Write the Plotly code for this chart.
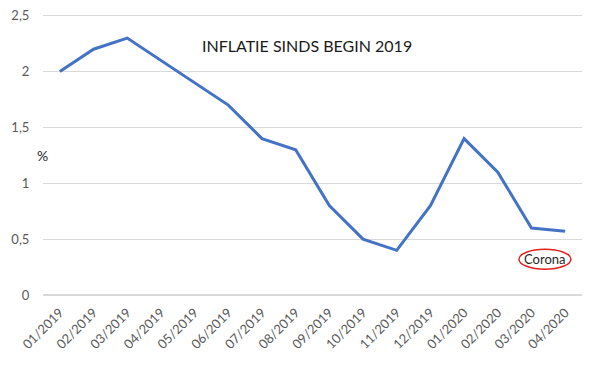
import plotly.graph_objects as go

months = ["01/2019", "02/2019", "03/2019", "04/2019", "05/2019", "06/2019", "07/2019", "08/2019",
          "09/2019", "10/2019", "11/2019", "12/2019", "01/2020", "02/2020", "03/2020", "04/2020"]
inflation = [2.0, 2.2, 2.3, 2.1, 1.9, 1.7, 1.4, 1.3, 0.8, 0.5, 0.4, 0.8, 1.4, 1.1, 0.6, 0.57]
y_ticks = [0, 0.5, 1, 1.5, 2, 2.5]

fig = go.Figure()
fig.add_trace(go.Scatter(x=months, y=inflation, mode="lines",
                         line=dict(color="#4472C4", width=3), hoverinfo="x+y"))

fig.update_layout(
    width=584, height=357,
    margin=dict(l=35, r=10, t=1, b=70, autoexpand=False),
    paper_bgcolor="white", plot_bgcolor="white",
    separators=",.",
    showlegend=False,
    font=dict(family="Lato, Open Sans, sans-serif", size=13, color="#595959"),
    xaxis=dict(type="category", range=[-0.5, len(months) - 0.5], tickangle=-45,
               showgrid=False, showline=False, automargin=False,
               ticks="outside", ticklen=4, tickcolor="white",
               tickfont=dict(size=13, color="#595959")),
    yaxis=dict(range=[0, 2.56], tickvals=y_ticks, showgrid=True, gridcolor="#d9d9d9",
               gridwidth=1, zeroline=True, zerolinecolor="#d9d9d9", showline=False,
               automargin=False, ticks="outside", ticklen=10, tickcolor="white",
               ticklabeloverflow="allow",
               tickfont=dict(size=13, color="#595959")),
    annotations=[
        dict(text="INFLATIE SINDS BEGIN 2019", xref="paper", yref="y",
             x=(307 - 43) / 539, y=(295 - 45) / 112, showarrow=False,
             font=dict(size=16, color="#1a1a1a")),
        dict(text="%", xref="paper", yref="y", x=(35 - 43) / 539, y=(295 - 155) / 112,
             showarrow=False, font=dict(size=14, color="#262626")),
        dict(text="Corona", xref="x", yref="y", x=14.4, y=0.32, showarrow=False,
             font=dict(size=13, color="#262626")),
    ],
    shapes=[
        dict(type="circle", xref="x", yref="y", xsizemode="pixel", ysizemode="pixel",
             xanchor=14.4, yanchor=0.32, x0=-26, x1=26, y0=-10, y1=10,
             line=dict(color="#e0201b", width=1.5)),
    ],
)

fig.write_html("out.html")
